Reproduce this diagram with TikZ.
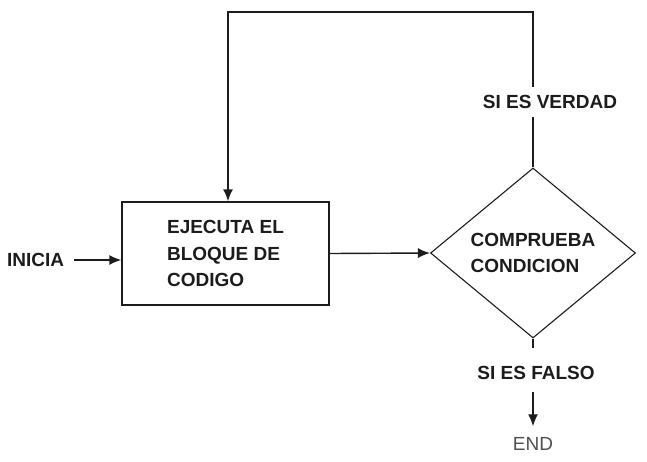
\documentclass[tikz,border=0pt]{standalone}
\usepackage{fontspec}
\setmainfont{Liberation Sans}
\usepackage{tikz}
\usetikzlibrary{arrows.meta,%
                shapes.geometric}

\definecolor{tinta}{HTML}{1C1C1C}
\definecolor{gris}{HTML}{505050}

\begin{document}
\begin{tikzpicture}[x=1pt, y=-1pt,
  linea/.style={draw=tinta, line width=1.4pt},
  flecha/.style={linea, -{Latex[length=12pt,width=10pt]}},
  texto/.style={text=tinta, font=\fontsize{19}{26.5}\selectfont\bfseries, inner sep=3pt},
  bloquebox/.style={linea, rectangle, minimum width=207pt, minimum height=103pt, align=left},
  rombo/.style={draw=tinta, line width=1.1pt, diamond, minimum width=205pt, minimum height=170pt, inner sep=0pt, align=left}]

\useasboundingbox (0,0) rectangle (647,461);

\node[texto, bloquebox] (bloque) at (225.5,253.5) {EJECUTA EL\\BLOQUE DE\\CODIGO};
\node[texto, rombo] (comprueba) at (533,253) {COMPRUEBA\\CONDICION};
\node[texto, anchor=west] (inicia) at (4,260) {INICIA};

\coordinate (arriba) at (228,12);

\draw[flecha, shorten <=7pt] (inicia) -- (inicia -| bloque.west);
\draw[flecha] (bloque.east) -- (comprueba.west);
\draw[flecha] (comprueba.north) |- (arriba) -- (arriba |- bloque.north);

\node[texto, fill=white, inner ysep=8pt] (verdad) at (550,102) {SI ES VERDAD};
\node[texto] (falso) at (536,373) {SI ES FALSO};
\node[text=gris, font=\fontsize{19}{22}\selectfont, inner sep=3pt] (fin) at (533,444) {END};

\draw[linea, shorten >=15pt] (comprueba.south) -- (comprueba.south |- falso.north);
\draw[flecha, shorten <=9pt, shorten >=8pt] (comprueba.south |- falso.south) -- (fin.north);

\end{tikzpicture}
\end{document}
